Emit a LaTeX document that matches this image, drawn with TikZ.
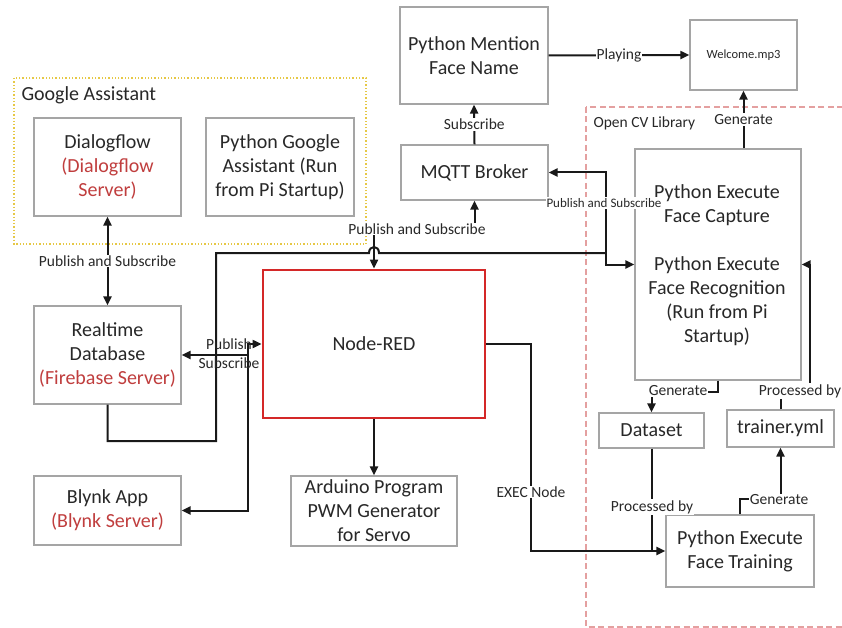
\documentclass[tikz,border=0pt]{standalone}
\usepackage{fontspec}
\setmainfont{Carlito}
\usetikzlibrary{arrows.meta}
\definecolor{boxgray}{RGB}{165,165,165}
\definecolor{redtxt}{RGB}{192,62,62}
\definecolor{nrred}{RGB}{212,40,40}
\definecolor{gayellow}{RGB}{230,200,70}
\definecolor{cvpink}{RGB}{228,160,160}
\definecolor{txt}{RGB}{40,40,40}
\begin{document}
\begin{tikzpicture}[x=1pt,y=-1pt,
  box/.style={draw=boxgray, line width=1.2pt, fill=white, align=center, inner sep=0pt,
    text=txt, font=\fontsize{20}{24}\selectfont},
  plain/.style={align=center, text=txt, font=\fontsize{20}{24}\selectfont},
  lab/.style={fill=white, inner sep=1pt, text=txt, font=\fontsize{15.5}{19}\selectfont},
  conn/.style={draw=black!90, line width=2pt},
  tip/.style={-{Triangle[length=9pt,width=8pt]}},
  bidir/.style={{Triangle[length=9pt,width=8pt]}-{Triangle[length=9pt,width=8pt]}}
]
\useasboundingbox (0,0) rectangle (842,628);
\fill[white] (0,0) rectangle (842,628);

% containers
\draw[gayellow, line width=1.3pt, dotted] (14,78) rectangle (366,244);
\node[anchor=west, plain] (galab) at (18,95) {Google Assistant};
\draw[cvpink, line width=1.2pt, dash pattern=on 6pt off 3.5pt] (586,107) rectangle (850,627);
\node[anchor=west, text=txt, font=\fontsize{15.5}{19}\selectfont] (cvlab) at (590,123) {Open CV Library};

% boxes
\node[box, minimum width=147pt, minimum height=98pt] (dialog) at (107.5,167)
  {Dialogflow\\\textcolor{redtxt}{(Dialogflow}\\\textcolor{redtxt}{Server)}};
\node[box, minimum width=148pt, minimum height=98pt] (pga) at (280,167)
  {Python Google\\Assistant (Run\\from Pi Startup)};
\node[box, minimum width=147pt, minimum height=98pt] (rtdb) at (107.5,355)
  {Realtime\\Database\\\textcolor{redtxt}{(Firebase Server)}};
\node[box, minimum width=147pt, minimum height=69pt] (blynk) at (107.5,510.5)
  {Blynk App\\\textcolor{redtxt}{(Blynk Server)}};
\node[box, draw=nrred, line width=2.8pt, minimum width=222pt, minimum height=148pt] (nodered) at (374,344) {Node-RED};
\node[box, minimum width=166pt, minimum height=70pt] (arduino) at (374,511)
  {Arduino Program\\PWM Generator\\for Servo};
\node[box, minimum width=148pt, minimum height=97pt] (mention) at (474,55.5)
  {Python Mention\\Face Name};
\node[box, minimum width=107pt, minimum height=70pt, font=\fontsize{12.5}{15}\selectfont] (welcome) at (743.5,55) {Welcome.mp3};
\node[box, minimum width=147pt, minimum height=55pt] (mqtt) at (474.5,172.5) {MQTT Broker};
\node[box, minimum width=166pt, minimum height=231pt] (face) at (718,264.5) {};
\node[plain] (capt) at (717,205) {Python Execute\\Face Capture};
\node[plain] (recog) at (717,301) {Python Execute\\Face Recognition\\(Run from Pi\\Startup)};
\node[box, minimum width=105pt, minimum height=35pt] (dataset) at (651.5,430.5) {Dataset};
\node[box, minimum width=107pt, minimum height=37pt] (trainer) at (780.5,428.5) {trainer.yml};
\node[box, minimum width=148pt, minimum height=72pt] (training) at (740,551)
  {Python Execute\\Face Training};

% helper coordinates
\coordinate (j1) at (606,253);
\coordinate (q1) at (248,344);
\coordinate (k1) at (531,344);
\coordinate (p1) at (810,391);

% connectors
\draw[conn, bidir] (dialog.south) -- (rtdb.north) node[lab, midway] {Publish and Subscribe};
\draw[conn, tip] (mqtt.north) -- (mention.south) node[lab, midway] {Subscribe};
\draw[conn, tip] (mention.east) -- (welcome.west) node[lab, midway] {Playing};
\draw[conn, tip] (welcome.south |- face.north) -- (welcome.south) node[lab, midway] {Generate};

% Realtime -> long line to Face Recognition, with hop
\draw[conn] (rtdb.south) -- (107.5,441) -- (216,441) -- (216,253) -- (369,253)
  .. controls (369,245) and (379,245) .. (379,253) -- (j1);
% MQTT <-> Face Recognition
\draw[conn, bidir] (mqtt.east) -| (j1) |- (face.west);
\node[lab, font=\fontsize{13}{15}\selectfont] (l_ps2) at (604,203) {Publish and Subscribe};

% Node-RED <-> MQTT
\draw[conn, bidir] (nodered.north) -- ++(0,-41) -| (mqtt.south);
\node[lab] (l_ps1) at (417,229) {Publish and Subscribe};

% Node-RED <-> Realtime / Blynk
\draw[conn, bidir] (blynk.east) -| (q1) -- (nodered.west);
\draw[conn, tip] (q1 |- rtdb.east) -- (rtdb.east);
\node[align=center, text=txt, font=\fontsize{15.5}{19}\selectfont] (l_ps3) at (229,354) {Publish\\Subscribe};

% Node-RED -> Arduino
\draw[conn, tip] (nodered.south) -- (arduino.north);

% Node-RED -> Face Training (EXEC)
\draw[conn, tip] (nodered.east) -- (k1) |- (training.west);
\node[lab] (l_exec) at (531,492) {EXEC Node};

% Dataset -> Face Training
\draw[conn] (dataset.south) -- (dataset.south |- training.west);
\node[lab] (l_pb1) at (652,507) {Processed by};

% Face Recognition -> Dataset
\draw[conn, tip] (face.south) -- ++(0,11) -| (dataset.north);
\node[lab] (l_gen2) at (678,391) {Generate};

% Face Training -> trainer.yml
\draw[conn, tip] (training.north) -- ++(0,-15) -| (trainer.south);
\node[lab] (l_gen3) at (779,500) {Generate};

% trainer.yml -> Face Recognition
\draw[conn, tip] (trainer.north) |- (p1) |- (face.east);
\node[lab] (l_pb2) at (800,391) {Processed by};
\end{tikzpicture}
\end{document}
